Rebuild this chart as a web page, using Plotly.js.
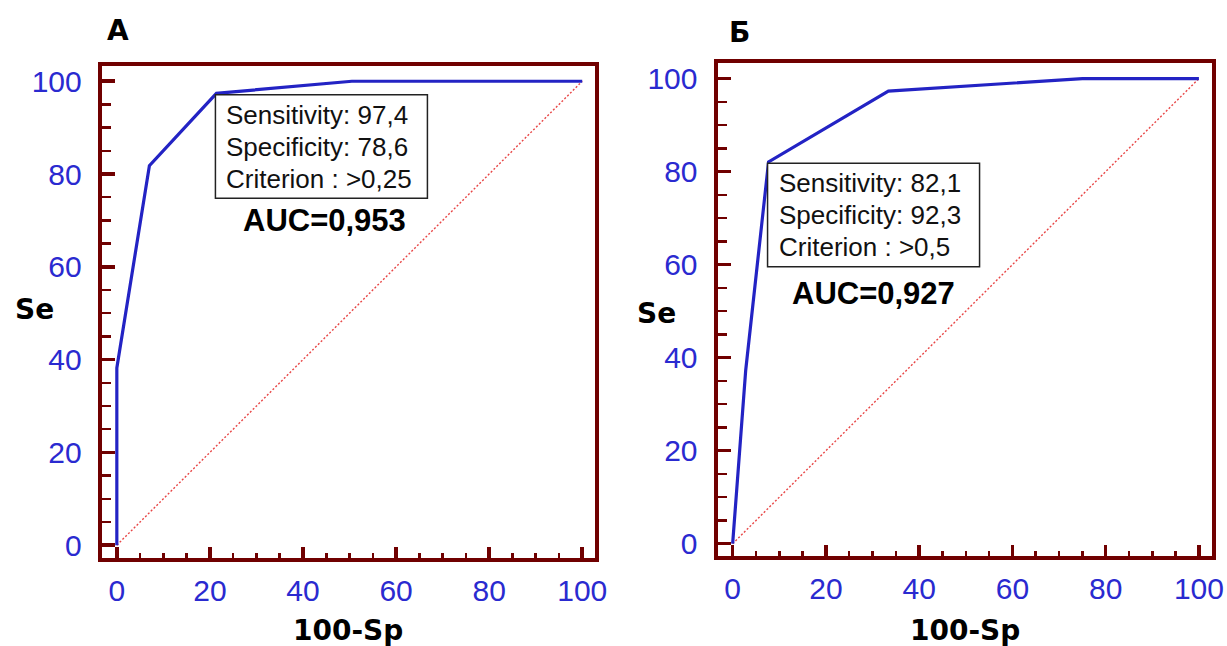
<!DOCTYPE html>
<html>
<head>
<meta charset="utf-8">
<script src="https://cdn.plot.ly/plotly-3.0.1.min.js"></script>
<style>
  html, body { margin: 0; padding: 0; background: #ffffff; }
  #chart { width: 1227px; height: 646px; }
</style>
</head>
<body>
<div id="chart"></div>
<script>
// ROC curves: 100-Sp (false positive rate, %) against Se (sensitivity, %)
const fprA = [0, 0, 7.0, 21.4, 50.5, 100];
const tprA = [0, 38.2, 81.8, 97.4, 100, 100];
const fprB = [0, 2.8, 7.7, 33.4, 75.0, 100];
const tprB = [0, 37.3, 82.1, 97.3, 100, 100];

// reference line of a non-informative test
const chanceX = [0, 100];
const chanceY = [0, 100];

// optimal cut-off for each panel
const panelNames = ['А', 'Б'];
const sensitivity = [97.4, 82.1];
const specificity = [78.6, 92.3];
const criterion = ['>0,25', '>0,5'];
const auc = [0.953, 0.927];

// axis ticks
const tickValues = [0, 20, 40, 60, 80, 100];

const frameColor = '#700000';
const curveColor = '#2323c4';
const labelBlue = '#2a2ad0';
const textFont = 'Liberation Sans, Arial, sans-serif';
const heavyFont = 'DejaVu Sans, Verdana, sans-serif';

const W = 1227, H = 646;
const px = v => v / W;
const py = v => (H - v) / H;

function comma(v, digits) {
  return v.toFixed(digits).replace('.', ',');
}

function xAxis(domain) {
  return {
    domain: domain,
    range: [-3.25, 102.7],
    showgrid: false, zeroline: false,
    showline: true, linecolor: frameColor, linewidth: 4, mirror: true,
    ticks: 'inside', ticklen: 11, tickwidth: 3.5, tickcolor: frameColor,
    tickvals: tickValues,
    tickfont: { family: textFont, size: 30, color: labelBlue },
    ticklabelstandoff: 3,
    minor: { dtick: 5, ticks: 'inside', ticklen: 5, tickwidth: 2.5, tickcolor: frameColor, showgrid: false },
    fixedrange: true
  };
}

function yAxis(domain, anchor) {
  return {
    domain: domain, anchor: anchor,
    range: [-2.7, 103.35],
    showgrid: false, zeroline: false,
    showline: true, linecolor: frameColor, linewidth: 4, mirror: true,
    ticks: 'inside', ticklen: 13, tickwidth: 3.5, tickcolor: frameColor,
    tickvals: tickValues,
    tickfont: { family: textFont, size: 30, color: labelBlue },
    ticklabelstandoff: 10,
    minor: { dtick: 5, ticks: 'inside', ticklen: 9, tickwidth: 2.5, tickcolor: frameColor, showgrid: false },
    fixedrange: true
  };
}

const curves = [[fprA, tprA], [fprB, tprB]];
const axisIds = [['x', 'y'], ['x2', 'y2']];

const data = [];
curves.forEach((c, i) => {
  data.push({
    x: chanceX, y: chanceY, xaxis: axisIds[i][0], yaxis: axisIds[i][1],
    mode: 'lines', line: { color: 'rgb(232,70,70)', width: 1.4, dash: '2px,2px' },
    hoverinfo: 'skip', showlegend: false
  });
  data.push({
    x: c[0], y: c[1], xaxis: axisIds[i][0], yaxis: axisIds[i][1],
    mode: 'lines', line: { color: curveColor, width: 3.2 },
    hoverinfo: 'skip', showlegend: false
  });
});

const shapes = [];
const annotations = [];

// cut-off box anchored at the optimal point
sensitivity.forEach((se, i) => {
  const cx = 100 - specificity[i];
  const xr = axisIds[i][0], yr = axisIds[i][1];
  shapes.push({
    type: 'rect', xref: xr, yref: yr,
    xsizemode: 'pixel', ysizemode: 'pixel',
    xanchor: cx, yanchor: se,
    x0: -1, x1: 211, y0: -1.5, y1: -105,
    line: { color: '#222222', width: 1.5 }, fillcolor: '#ffffff', layer: 'above'
  });
  const lines = [
    'Sensitivity: ' + comma(se, 1),
    'Specificity: ' + comma(specificity[i], 1),
    'Criterion : ' + criterion[i]
  ];
  lines.forEach((t, k) => {
    annotations.push({
      xref: xr, yref: yr, x: cx, y: se,
      xanchor: 'left', yanchor: 'middle',
      xshift: 8, yshift: -21.5 - 32 * k,
      text: t, showarrow: false,
      font: { family: textFont, size: 26, color: '#111111' }
    });
  });
});

// AUC labels
const aucPos = [[44.7, 69.9], [30.3, 53.8]];
auc.forEach((a, i) => {
  annotations.push({
    xref: axisIds[i][0], yref: axisIds[i][1], x: aucPos[i][0], y: aucPos[i][1],
    xanchor: 'center', yanchor: 'middle',
    text: 'AUC=' + comma(a, 3), showarrow: false,
    font: { family: textFont, size: 31, color: '#000000', weight: 700 }
  });
});

// panel letters and axis titles
const heavy = { family: heavyFont, size: 28, color: '#000000', weight: 700 };
const titles = [
  { t: panelNames[0], x: 117.6, y: 30.5 },
  { t: panelNames[1], x: 739.5, y: 32 },
  { t: 'Se', x: 34.6, y: 309 },
  { t: 'Se', x: 656.4, y: 313 },
  { t: '100-Sp', x: 348, y: 630.5 },
  { t: '100-Sp', x: 964.5, y: 630 }
];
titles.forEach(o => {
  annotations.push({
    xref: 'paper', yref: 'paper', x: px(o.x), y: py(o.y),
    xanchor: 'center', yanchor: 'middle',
    text: o.t, showarrow: false, font: heavy
  });
});

const layout = {
  width: W, height: H,
  margin: { l: 0, r: 0, t: 0, b: 0 },
  paper_bgcolor: '#ffffff', plot_bgcolor: '#ffffff',
  showlegend: false,
  xaxis: xAxis([px(101.7), px(594.8)]),
  yaxis: yAxis([py(557.7), py(65.7)], 'x'),
  xaxis2: xAxis([px(717.5), px(1211.5)]),
  yaxis2: yAxis([py(556.3), py(63)], 'x2'),
  shapes: shapes,
  annotations: annotations
};
layout.xaxis.anchor = 'y';
layout.xaxis2.anchor = 'y2';

Plotly.newPlot('chart', data, layout, { staticPlot: true, displayModeBar: false });
</script>
</body>
</html>
